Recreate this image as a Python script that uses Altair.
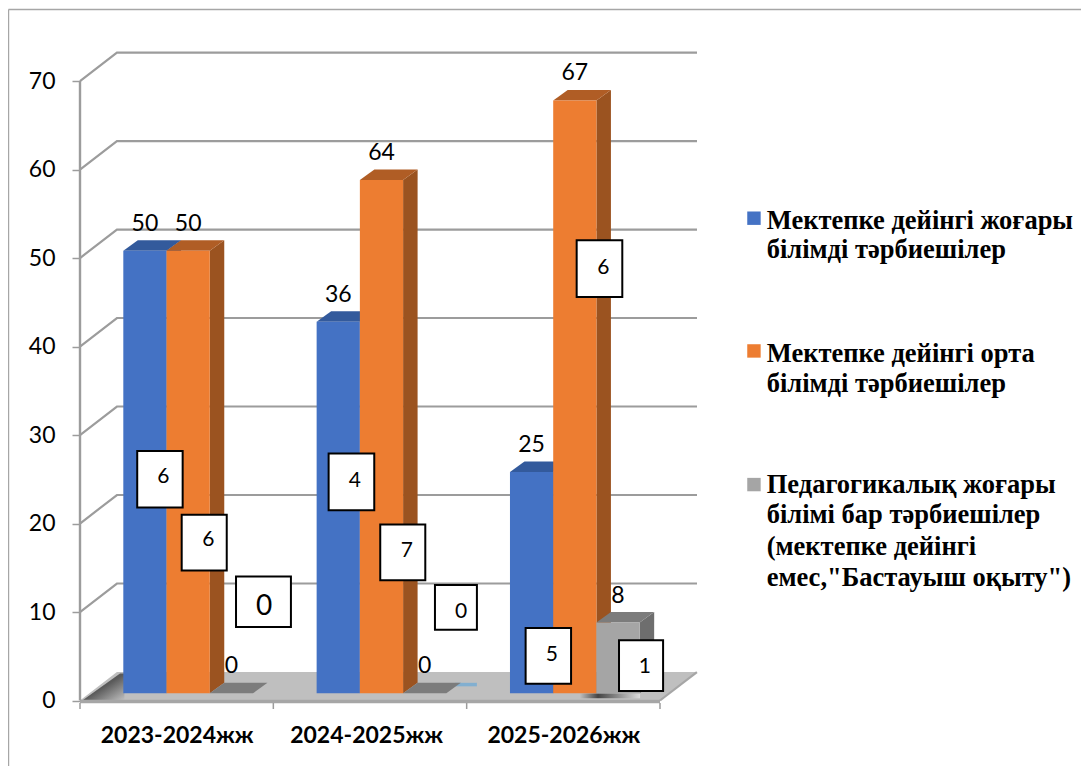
import json
import altair as alt
import pandas as pd

# ---- values
categories = ["2023-2024жж", "2024-2025жж", "2025-2026жж"]
series = ["Мектепке дейінгі жоғары білімді тәрбиешілер",
          "Мектепке дейінгі орта білімді тәрбиешілер",
          "Педагогикалық жоғары білімі бар тәрбиешілер (мектепке дейінгі емес,\"Бастауыш оқыту\")"]
heights_blue = [50, 42, 25]
heights_orange = [50, 58, 67]
heights_gray = [0, 0, 8]
labels_blue = [50, 36, 25]
labels_orange = [50, 64, 67]
labels_gray = [0, 0, 8]
box_texts = ["6", "6", "0", "4", "7", "0", "5", "6", "1"]
box_x1 = [.296, .526, .807, 1.286, 1.553, 1.836, 2.305, 2.569, 2.788]
box_x2 = [.531, .759, 1.091, 1.522, 1.786, 2.053, 2.540, 2.805, 3.016]
box_top = [28.2, 21.0, 14.0, 27.9, 19.9, 13.05, 8.2, 52.0, 6.8]
box_bottom = [21.8, 14.7, 8.3, 21.5, 13.6, 8.0, 1.9, 45.6, 1.07]
box_text_x = [.431, .664, .952, 1.422, 1.690, 1.971, 2.441, 2.707, 2.922]
box_text_y = [25.2, 18.1, 10.6, 24.8, 16.9, 10.0, 5.1, 48.9, 3.8]
box_font = [21, 21, 28, 21, 21, 21, 21, 21, 21]
legend_lines = [["Мектепке дейінгі жоғары", "білімді тәрбиешілер"],
                ["Мектепке дейінгі орта", "білімді тәрбиешілер"],
                ["Педагогикалық жоғары", "білімі бар тәрбиешілер", "(мектепке дейінгі", "емес,\"Бастауыш оқыту\")"]]
legend_marker_y = [54.5, 39.5, 24.4]
legend_line_y = [[53.3, 50.0], [38.3, 34.9], [23.45, 20.06, 16.45, 12.94]]
grid_values = [10, 20, 30, 40, 50, 60, 70]

front_colors = ["#4472C4", "#ED7D31", "#A5A5A5"]
top_colors = ["#335A9C", "#B05D25", "#7C7C7C"]
side_colors = ["#2F5597", "#9B5320", "#6E6E6E"]
GRID = "#9C9C9C"
FLOOR = "#BFBFBF"

# ---- scale geometry in data units
X_DOMAIN = [0, 3.1914]
Y_DOMAIN = [-0.508, 73.28]
WALL_DX, WALL_DY = 0.191, 3.22
BAR_START, BAR_W = 0.224, 0.2236
BAR_BASE = 0.81
D_DX, D_DY = 0.075, 1.186
W, H = 617, 653

x_scale = alt.Scale(domain=X_DOMAIN, nice=False, zero=False)
y_scale = alt.Scale(domain=Y_DOMAIN, nice=False, zero=False)

cat_expr = json.dumps(categories, ensure_ascii=False)
x_axis = alt.Axis(values=[.5, 1.48, 2.5], labelExpr=f"{cat_expr}[floor(datum.value)]", title=None,
                  ticks=False, domain=False, grid=False, labelFont="Lato", labelFontSize=23,
                  labelFontWeight="bold", labelColor="#000000", labelPadding=19,
                  labelOverlap=False, labelFlush=False)
y_axis = alt.Axis(values=[0, 10, 20, 30, 40, 50, 60, 70], title=None, domain=False, grid=False,
                  tickColor=GRID, tickSize=8, tickWidth=1.5, labelFont="Lato", labelFontSize=23,
                  labelColor="#000000", labelPadding=17, format="d")


def X(f="x"):
    return alt.X(f, type="quantitative", scale=x_scale, axis=x_axis)


def Y(f="y"):
    return alt.Y(f, type="quantitative", scale=y_scale, stack=None, axis=y_axis)


def polygon_layer(rows, **mark):
    return alt.Chart(pd.DataFrame(rows)).mark_area(interpolate="linear", **mark).encode(
        x=X(), y=Y(), y2=alt.Y2("y2"), detail="id:N",
    )


# frame of the picture
frame = alt.Chart(pd.DataFrame({"x": [-.37, 5.18], "y": [78.08, 78.08]})).mark_line(
    color="#A6A6A6", strokeWidth=1.5).encode(x=X(), y=Y())
frame_left = alt.Chart(pd.DataFrame({"x": [-.37, -.37], "y": [78.08, -7.4]})).mark_line(
    color="#A6A6A6", strokeWidth=1.5).encode(x=X(), y=Y())

# floor
floor = polygon_layer([
    {"id": "f", "x": 0, "y": 0, "y2": 0},
    {"id": "f", "x": WALL_DX, "y": WALL_DY, "y2": 0},
    {"id": "f", "x": 3, "y": WALL_DY, "y2": 0},
    {"id": "f", "x": 3 + WALL_DX, "y": WALL_DY, "y2": WALL_DY},
], color=FLOOR)

wedge = polygon_layer([
    {"id": "w", "x": .0155, "y": .06, "y2": .06},
    {"id": "w", "x": .207, "y": 3.05, "y2": .06},
    {"id": "w", "x": .23, "y": 3.05, "y2": .06},
], color=alt.LinearGradient(gradient="linear", x1=.5, y1=.5, x2=1, y2=1,
                            stops=[alt.GradientStop(offset=0, color="#5A5A5A"),
                                   alt.GradientStop(offset=1, color=FLOOR)]))
shadow = polygon_layer([
    {"id": "s", "x": 2.586, "y": .8, "y2": .25},
    {"id": "s", "x": 2.897, "y": .8, "y2": .25},
], color=alt.LinearGradient(gradient="linear", x1=0, y1=0, x2=1, y2=0,
                            stops=[alt.GradientStop(offset=0, color=FLOOR),
                                   alt.GradientStop(offset=.3, color="#444444"),
                                   alt.GradientStop(offset=1, color="#DDDDDD")]))
streak = polygon_layer([
    {"id": "b", "x": 1.94, "y": 2.0, "y2": 1.6},
    {"id": "b", "x": 2.053, "y": 2.0, "y2": 1.6},
], color="#5AA5DC", opacity=.6)

# gridlines along the wall and the back
grid_rows = []
for v in grid_values:
    grid_rows += [{"v": v, "x": 0, "y": v}, {"v": v, "x": WALL_DX, "y": v + WALL_DY},
                  {"v": v, "x": X_DOMAIN[1], "y": v + WALL_DY}]
grid = alt.Chart(pd.DataFrame(grid_rows)).mark_line(color=GRID, strokeWidth=2.2).encode(
    x=X(), y=Y(), detail="v:N", order="x:Q",
)

front_edge = alt.Chart(pd.DataFrame({"x": [0, 3], "y": [-.1, -.1]})).mark_line(
    color="#A6A6A6", strokeWidth=3.5).encode(x=X(), y=Y())
right_edge = alt.Chart(pd.DataFrame({"x": [3, 3 + WALL_DX], "y": [0, WALL_DY]})).mark_line(
    color="#A6A6A6", strokeWidth=2.2).encode(x=X(), y=Y())
y_line = alt.Chart(pd.DataFrame({"x": [0, 0], "y": [0, 70]})).mark_line(
    color=GRID, strokeWidth=2.4).encode(x=X(), y=Y())
ticks = alt.Chart(pd.DataFrame({"x": [0, 1, 2, 3], "y": [-.28] * 4, "y2": [-.96] * 4})).mark_rule(
    color=GRID, strokeWidth=1.5).encode(x=X(), y=Y(), y2=alt.Y2("y2"))

# 3D bars, one series after another so that later ones cover earlier ones
heights = [heights_blue, heights_orange, heights_gray]
labels = [labels_blue, labels_orange, labels_gray]
bar_layers = []
label_rows = []
for s in range(3):
    faces, fronts = [], []
    for c in range(3):
        left = c + BAR_START + s * BAR_W
        right = left + BAR_W
        v = heights[s][c]
        top = v + BAR_BASE
        base = BAR_BASE
        if v > 0:
            side_id = f"side{c}"
            faces += [{"id": side_id, "x": right, "y": top, "y2": base, "col": side_colors[s]},
                      {"id": side_id, "x": right + D_DX, "y": top + D_DY, "y2": base + D_DY, "col": side_colors[s]}]
        top_id = f"top{c}"
        faces += [{"id": top_id, "x": left, "y": top, "y2": top, "col": top_colors[s]},
                  {"id": top_id, "x": left + D_DX, "y": top + D_DY, "y2": top, "col": top_colors[s]},
                  {"id": top_id, "x": right, "y": top + D_DY, "y2": top, "col": top_colors[s]},
                  {"id": top_id, "x": right + D_DX, "y": top + D_DY, "y2": top + D_DY, "col": top_colors[s]}]
        fronts.append({"x": left, "x2": right, "y": top, "y2": base})
        label_rows.append({"x": (left + right) / 2, "y": top, "t": str(labels[s][c])})
    bar_layers.append(alt.Chart(pd.DataFrame(faces)).mark_area(interpolate="linear").encode(
        x=X(), y=Y(), y2=alt.Y2("y2"), detail="id:N", color=alt.Color("col:N", scale=None)))
    bar_layers.append(alt.Chart(pd.DataFrame(fronts)).mark_rect(color=front_colors[s]).encode(
        x=X(), x2=alt.X2("x2"), y=Y(), y2=alt.Y2("y2")))

value_labels = alt.Chart(pd.DataFrame(label_rows)).mark_text(
    font="Lato", fontSize=23, color="#000000", dy=-27, baseline="middle", align="center").encode(
    x=X(), y=Y(), text="t:N")

# boxed notes
box_df = pd.DataFrame({"x": box_x1, "x2": box_x2, "y": box_top, "y2": box_bottom})
boxes = alt.Chart(box_df).mark_rect(fill="#FFFFFF", stroke="#000000", strokeWidth=2).encode(
    x=X(), x2=alt.X2("x2"), y=Y(), y2=alt.Y2("y2"))
box_label_df = pd.DataFrame({"x": box_text_x, "y": box_text_y, "t": box_texts, "fs": box_font})
box_labels = alt.Chart(box_label_df).mark_text(
    font="Lato", color="#000000", baseline="middle", align="center").encode(
    x=X(), y=Y(), text="t:N", size=alt.Size("fs:Q", scale=None, legend=None))

# legend
LEG_MARK_X, LEG_TEXT_X = 3.486, 3.552
legend_marks = alt.Chart(pd.DataFrame({
    "x": [LEG_MARK_X] * 3, "y": legend_marker_y, "col": front_colors, "name": series,
})).mark_square(size=180, opacity=1).encode(
    x=X(), y=Y(), color=alt.Color("col:N", scale=None), tooltip="name:N")
leg_rows = []
for lines, ys in zip(legend_lines, legend_line_y):
    for line, yy in zip(lines, ys):
        leg_rows.append({"x": LEG_TEXT_X, "y": yy, "t": line})
legend_text = alt.Chart(pd.DataFrame(leg_rows)).mark_text(
    font="Liberation Serif", fontWeight="bold", fontSize=26.5, color="#000000",
    align="left", baseline="alphabetic").encode(x=X(), y=Y(), text="t:N")

chart = alt.layer(
    grid, frame, frame_left, floor, wedge, shadow, streak, front_edge, right_edge, y_line, ticks,
    *bar_layers, value_labels, boxes, box_labels, legend_marks, legend_text,
).properties(
    width=W, height=H,
    autosize=alt.AutoSizeParams(type="none"),
    padding={"left": 72, "top": 44, "right": 384, "bottom": 62},
    background="#FFFFFF",
).configure_view(stroke=None)

chart.save("out.html", embed_options={"renderer": "svg", "actions": False})
